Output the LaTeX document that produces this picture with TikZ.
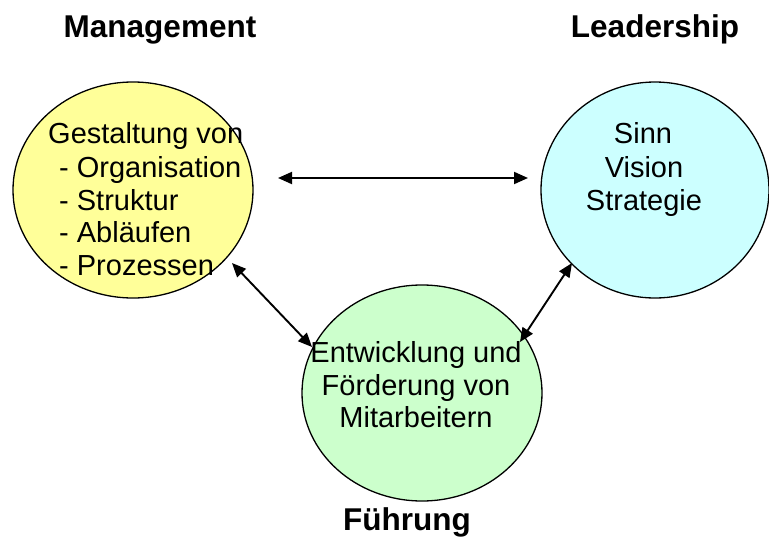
\documentclass[tikz,border=0pt]{standalone}
\usepackage{fontspec}
\setmainfont{Liberation Sans}
\usetikzlibrary{arrows.meta,calc,shapes.geometric}
\definecolor{mgmtyellow}{RGB}{255,255,153}
\definecolor{leadcyan}{RGB}{204,255,255}
\definecolor{fuehrgreen}{RGB}{204,255,204}
\begin{document}
\begin{tikzpicture}[x=1pt,y=-1pt,
  bubble/.style={ellipse,draw=black,line width=1.3pt,inner sep=0pt,minimum height=216pt},
  txt/.style={inner sep=0pt,font=\fontsize{29}{33}\selectfont},
  ttl/.style={inner sep=0pt,font=\fontsize{31.5}{36}\selectfont\bfseries},
  arr/.style={line width=1.9pt,{Triangle[length=14pt,width=12pt]}-{Triangle[length=14pt,width=12pt]}}]
\useasboundingbox (0,0) rectangle (769,544);
% ellipses
\node[bubble,fill=mgmtyellow,minimum width=240pt] (L) at (133,190) {};
\node[bubble,fill=leadcyan,minimum width=228pt] (R) at (655,190) {};
\node[bubble,fill=fuehrgreen,minimum width=240pt] (B) at (422,393) {};
% titles
\node[ttl,anchor=base] (tm) at (160,37) {Management};
\node[ttl,anchor=base] (tl) at (655,37) {Leadership};
\node[ttl,anchor=base] (tf) at (407,530) {Führung};
% left text
\node[txt,anchor=base west] (l1) at (48,143) {Gestaltung von};
\node[txt,anchor=base west] (l2) at (59,177) {- Organisation};
\node[txt,anchor=base west] (l3) at (59,210) {- Struktur};
\node[txt,anchor=base west] (l4) at (59,242) {- Abläufen};
\node[txt,anchor=base west] (l5) at (59,275) {- Prozessen};
% right text
\node[txt,anchor=base] (r1) at (643,143) {Sinn};
\node[txt,anchor=base] (r2) at (644,177) {Vision};
\node[txt,anchor=base] (r3) at (644,210) {Strategie};
% bottom text
\node[txt,anchor=base] (b1) at (416,362) {Entwicklung und};
\node[txt,anchor=base] (b2) at (416,395) {Förderung von};
\node[txt,anchor=base] (b3) at (416,427) {Mitarbeitern};
% arrows
\draw[arr] ($(L.center)+(145,-12)$) -- ($(R.center)+(-127,-12)$);
\draw[arr] ($(L.center)+(99,73)$) -- ($(B.center)+(-110,-46)$);
\draw[arr] ($(B.center)+(98,-51)$) -- ($(R.center)+(-83,73)$);
\end{tikzpicture}
\end{document}
